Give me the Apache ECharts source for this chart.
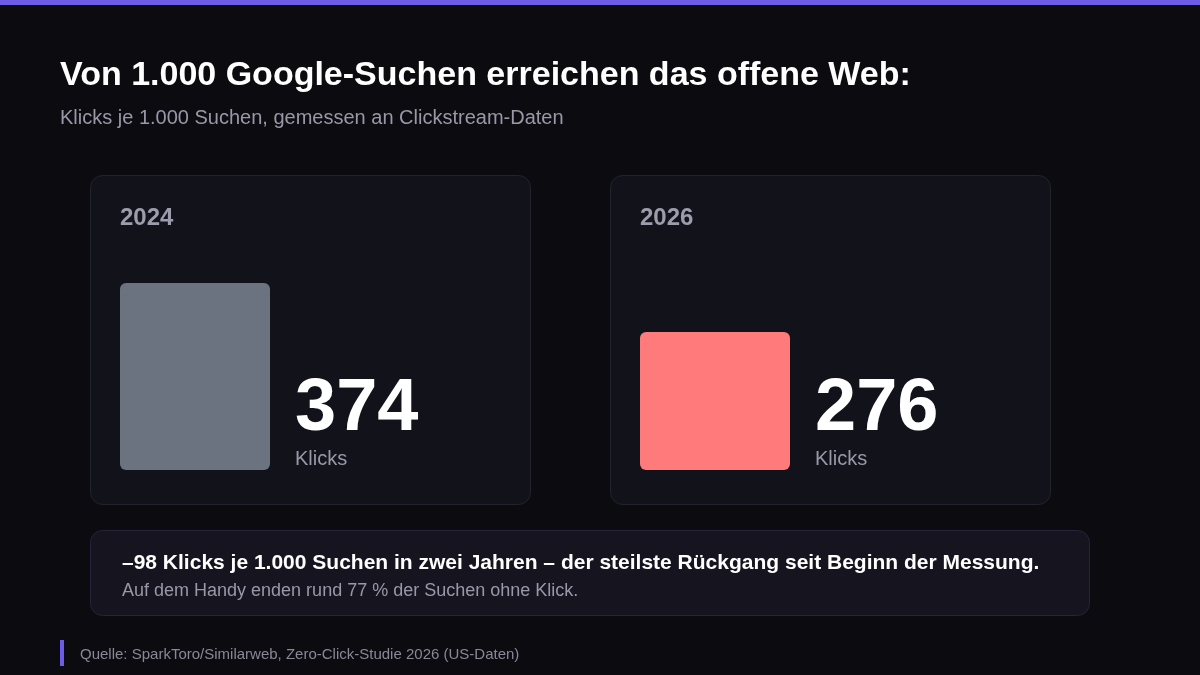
<!DOCTYPE html>
<html>
<head>
<meta charset="utf-8">
<script src="https://cdn.jsdelivr.net/npm/echarts@6/dist/echarts.min.js"></script>
<style>
  html, body { margin: 0; padding: 0; background: #0b0b10; }
  #chart { width: 1200px; height: 675px; }
</style>
</head>
<body>
<div id="chart"></div>
<script>
// data
const years = ['2024', '2026'];
const clicks = [374, 276];
const barColors = ['#6b7280', '#ff7a7a'];
const mobileZeroClickShare = 77;

const FONT = '"Liberation Sans", Arial, Helvetica, sans-serif';
const chart = echarts.init(document.getElementById('chart'));

const delta = clicks[1] - clicks[0];
const fmt = n => String(n).replace(/\B(?=(\d{3})+(?!\d))/g, '.');

// each card has its own grid; value 0 sits at y=470, 600 at y=170
const cardLeft = [90, 610];
const grids = cardLeft.map(l => ({ left: l + 30, width: 150, top: 170, bottom: 205 }));

const xAxes = years.map((y, i) => ({
    type: 'category', gridIndex: i, data: [y],
    axisLine: { show: false }, axisTick: { show: false }, axisLabel: { show: false }
}));
const yAxes = years.map((y, i) => ({
    type: 'value', gridIndex: i, min: 0, max: 600,
    splitLine: { show: false }, axisLabel: { show: false },
    axisLine: { show: false }, axisTick: { show: false }
}));

const series = years.map((y, i) => ({
    type: 'bar', xAxisIndex: i, yAxisIndex: i,
    data: [clicks[i]],
    barWidth: '100%',
    itemStyle: { color: barColors[i], borderRadius: 6 },
    label: {
        show: true,
        position: [175, '100%'],
        align: 'left',
        verticalAlign: 'bottom',
        formatter: p => '{v|' + p.value + '}\n{u|Klicks}',
        rich: {
            v: { fontFamily: FONT, fontWeight: 'bold', fontSize: 74, color: '#ffffff', lineHeight: 70, padding: [0, 0, 6, 0] },
            u: { fontFamily: FONT, fontSize: 20, color: '#9a98a8', lineHeight: 22 }
        }
    },
    silent: true
}));

const graphic = [
    { type: 'rect', shape: { x: 0, y: 0, width: 1200, height: 5 }, style: { fill: '#6c5ce7' } },
    { type: 'text', left: 60, top: 59, style: { text: 'Von 1.000 Google-Suchen erreichen das offene Web:', font: 'bold 34px ' + FONT, fill: '#ffffff' } },
    { type: 'text', left: 60, top: 108, style: { text: 'Klicks je 1.000 Suchen, gemessen an Clickstream-Daten', font: '20px ' + FONT, fill: '#9a98a8' } }
];
cardLeft.forEach((l, i) => {
    graphic.push({ type: 'rect', z: -1, shape: { x: l + 0.5, y: 175.5, width: 440, height: 329, r: 12 }, style: { fill: '#12121a', stroke: '#23232e', lineWidth: 1 } });
    graphic.push({ type: 'text', left: l + 30, top: 206, style: { text: years[i], font: 'bold 24px ' + FONT, fill: '#9e9cac' } });
});
graphic.push(
    { type: 'rect', z: -1, shape: { x: 90.5, y: 530.5, width: 999, height: 85, r: 12 }, style: { fill: '#15141f', stroke: '#25243a', lineWidth: 1 } },
    { type: 'text', left: 122, top: 553, style: { text: '\u2013' + Math.abs(delta) + ' Klicks je ' + fmt(1000) + ' Suchen in zwei Jahren \u2013 der steilste R\u00fcckgang seit Beginn der Messung.', font: 'bold 21px ' + FONT, fill: '#ffffff' } },
    { type: 'text', left: 122, top: 582, style: { text: 'Auf dem Handy enden rund ' + mobileZeroClickShare + ' % der Suchen ohne Klick.', font: '18px ' + FONT, fill: '#9a98a8' } },
    { type: 'rect', shape: { x: 60, y: 640, width: 4, height: 26 }, style: { fill: '#6c5ce7' } },
    { type: 'text', left: 80, top: 647, style: { text: 'Quelle: SparkToro/Similarweb, Zero-Click-Studie 2026 (US-Daten)', font: '15px ' + FONT, fill: '#8a8898' } }
);

chart.setOption({
    backgroundColor: '#0b0b10',
    animation: false,
    grid: grids,
    xAxis: xAxes,
    yAxis: yAxes,
    series: series,
    graphic: graphic
});
</script>
</body>
</html>
